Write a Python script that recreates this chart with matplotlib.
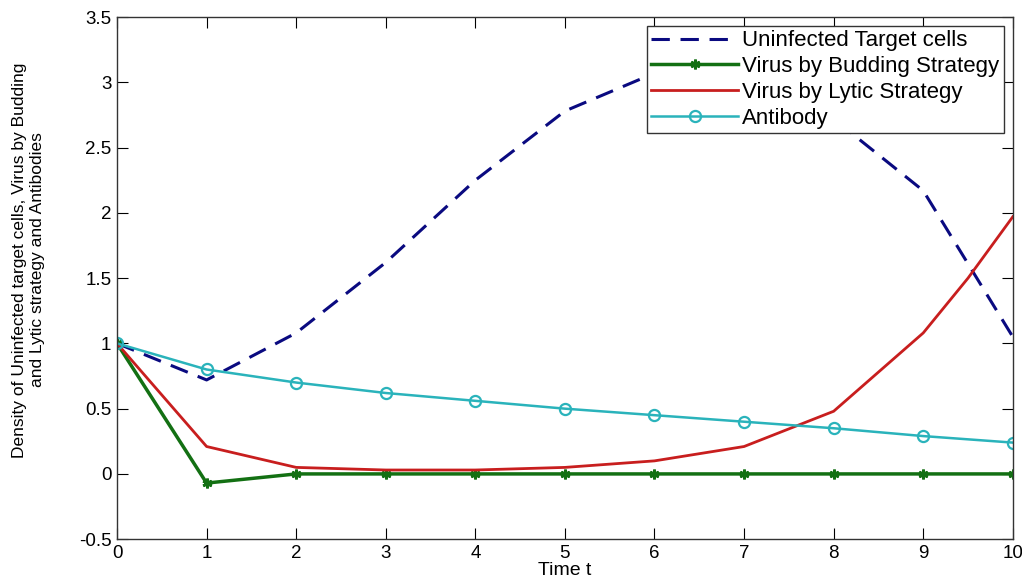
import matplotlib.pyplot as plt
from matplotlib.ticker import FormatStrFormatter

plt.rcParams['font.family'] = ['Liberation Sans', 'DejaVu Sans']

t = [0, 1, 2, 3, 4, 5, 6, 7, 8, 9, 10]
target = [1.0, 0.72, 1.08, 1.62, 2.25, 2.78, 3.07, 3.12, 2.72, 2.17, 1.05]
budding = [1.0, -0.07, 0.0, 0.0, 0.0, 0.0, 0.0, 0.0, 0.0, 0.0, 0.0]
t_lytic = [0, 1, 2, 3, 4, 5, 6, 7, 8, 9, 9.5, 10]
lytic = [1.0, 0.21, 0.05, 0.03, 0.03, 0.05, 0.1, 0.21, 0.48, 1.08, 1.5, 1.97]
antibody = [1.0, 0.8, 0.7, 0.62, 0.56, 0.5, 0.45, 0.4, 0.35, 0.29, 0.24]

fig = plt.figure(figsize=(10.22, 5.88), dpi=100)
ax = fig.add_axes([0.1145, 0.083, 0.8765, 0.888])

ax.plot(t, target, '--', color='#0a0a80', lw=2.2, dashes=(6, 3.5),
        label='Uninfected Target cells')
ax.plot(t, budding, '-', color='#137013', lw=2.5, marker=(6, 2, 0),
        markersize=7, mew=2, label='Virus by Budding Strategy')
ax.plot(t_lytic, lytic, '-', color='#c81e1e', lw=2,
        label='Virus by Lytic Strategy')
ax.plot(t, antibody, '-', color='#2ab3bb', lw=1.8, marker='o',
        markersize=8, mfc='none', mew=1.6, label='Antibody')

ax.set_xlim(0, 10)
ax.set_ylim(-0.5, 3.5)
ax.set_xticks(range(0, 11))
ax.set_yticks([-0.5, 0, 0.5, 1, 1.5, 2, 2.5, 3, 3.5])
ax.yaxis.set_major_formatter(FormatStrFormatter('%g'))
ax.tick_params(direction='in', top=True, right=True, labelsize=13.5,
               length=8, pad=4)
for s in ax.spines.values():
    s.set_linewidth(1.0)
    s.set_color('#333333')

ax.set_xlabel('Time t', fontsize=14, labelpad=0)
ax.set_ylabel('Density of Uninfected target cells, Virus by Budding\nand Lytic strategy and Antibodies',
              fontsize=12.5, linespacing=1.25)
ax.yaxis.set_label_coords(-0.08, 0.535)

leg = ax.legend(loc='upper right', fontsize=16, fancybox=False, framealpha=1,
                edgecolor='#333333', borderpad=0.2, labelspacing=0.22,
                handlelength=3.9, handletextpad=0.2, borderaxespad=0.4)
leg.get_frame().set_linewidth(1.0)

fig.savefig('out.png', dpi=100)
